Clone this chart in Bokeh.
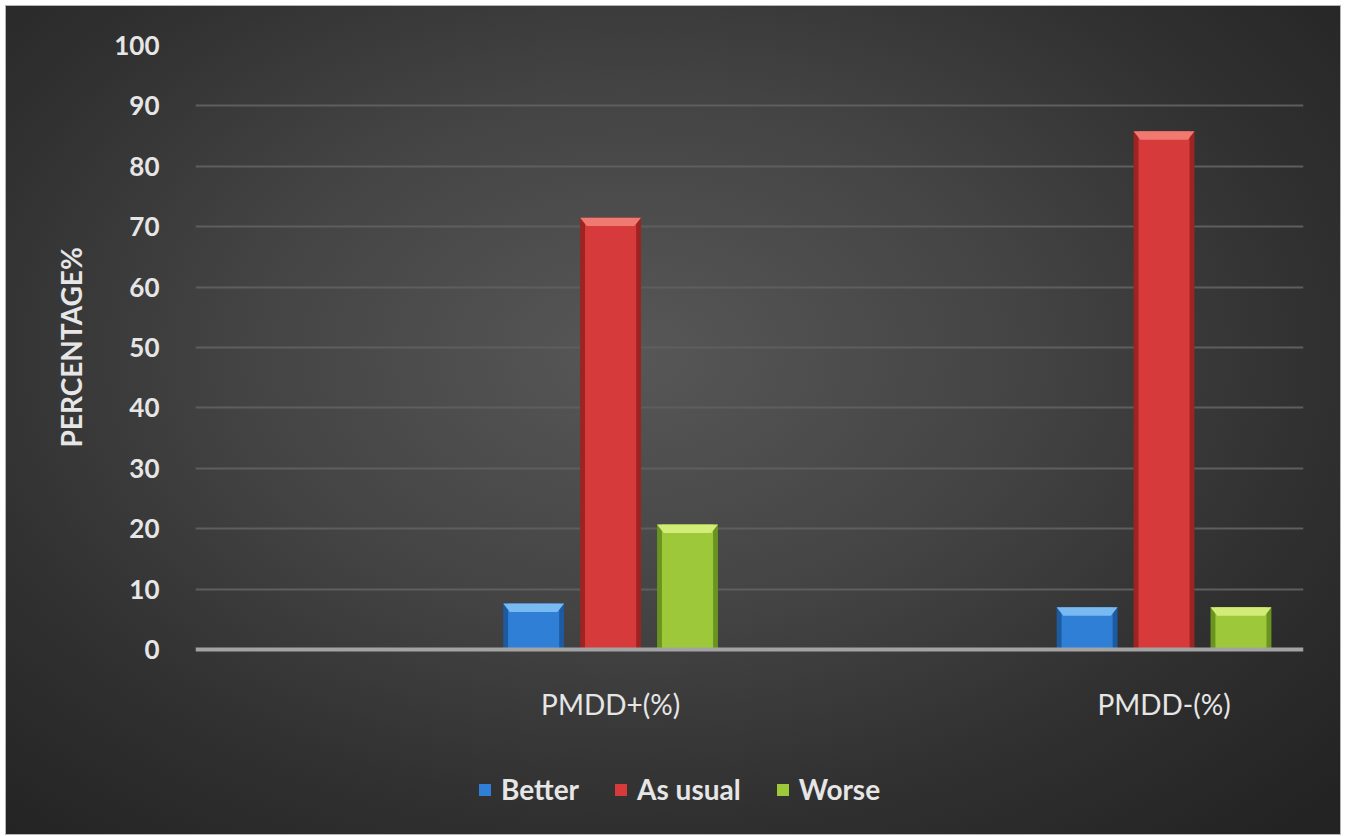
import numpy as np
from bokeh.plotting import figure
from bokeh.models import FixedTicker, Legend, LegendItem, ColumnDataSource, Span, Title
from bokeh.core.properties import value
from bokeh.embed import file_html
from bokeh.resources import INLINE

# Data
categories = ["PMDD+(%)", "PMDD-(%)"]
series = ["Better", "As usual", "Worse"]
better = [7.6, 7.0]
as_usual = [71.5, 85.8]
worse = [20.7, 7.0]
y_ticks = [0, 10, 20, 30, 40, 50, 60, 70, 80, 90, 100]

values = [better, as_usual, worse]
main_colors = ["#2f7fd6", "#d63a3a", "#9cc83a"]
edge_colors = ["#1d5aa0", "#9e2424", "#6a9420"]
top_colors = ["#79baf2", "#f07a72", "#d2ec78"]

# Layout (pixels)
FIG_W, FIG_H = 1334, 828
LEFT, RIGHT, TOP = 189, 37, 39
VALUE_SPAN_PX = 604          # height taken by 0..100
frame_h = FIG_H - TOP        # frame runs to the bottom so the legend fits inside it
y_start = y_ticks[-1] - frame_h * (y_ticks[-1] - y_ticks[0]) / VALUE_SPAN_PX

cat_pos = np.arange(1, len(categories) + 1, dtype=float)
offsets = [-0.139, 0.0, 0.139]
bar_w = 0.110
bevel_dx = 0.012
bevel_dy = 1.4

p = figure(
    width=FIG_W, height=FIG_H,
    x_range=(0.25, 2.252), y_range=(y_start, y_ticks[-1]),
    output_backend="svg", toolbar_location=None,
    min_border_left=LEFT, min_border_right=RIGHT,
    min_border_top=TOP, min_border_bottom=0,
)
p.margin = (6, 7, 2, 6)
p.styles = {
    "background": "radial-gradient(ellipse 72% 78% at 47% 42%, #575757 0%, #444444 40%, #303030 72%, #232323 100%)",
    "box-shadow": "0 0 0 1px #b4b4b4",
}
p.border_fill_color = None
p.background_fill_color = None
p.outline_line_color = None

legend_items = []
for name, vals, mc, ec, tc, off in zip(series, values, main_colors, edge_colors, top_colors, offsets):
    x = cat_pos + off
    top = np.array(vals, dtype=float)
    src = ColumnDataSource(dict(x=x, top=top))
    p.vbar(x="x", top="top", width=bar_w, bottom=0, source=src,
           fill_color=ec, line_color=None)
    r = p.vbar(x="x", top="top", width=bar_w * 0.84, bottom=0, source=src,
               fill_color=mc, line_color=None)
    xs = [[xi - bar_w / 2, xi + bar_w / 2, xi + bar_w / 2 - bevel_dx, xi - bar_w / 2 + bevel_dx]
          for xi in x]
    ys = [[ti, ti, ti - bevel_dy, ti - bevel_dy] for ti in top]
    p.patches(xs, ys, fill_color=tc, line_color=None)
    legend_items.append(LegendItem(label=name, renderers=[r]))

text_color = "#e6e6e6"

# Baseline at zero
p.add_layout(Span(location=0, dimension="width", line_color="#a3a3a3", line_width=4))

# Category labels under the baseline
p.text(x=cat_pos, y=[0] * len(categories), text=categories,
       y_offset=54, text_align="center", text_baseline="middle",
       text_font=value("Lato"), text_font_size="28px", text_color=text_color)

# Value axis
p.xaxis.visible = False
p.yaxis.ticker = FixedTicker(ticks=y_ticks)
p.yaxis.bounds = (y_ticks[0], y_ticks[-1])
p.yaxis.axis_line_color = None
p.yaxis.major_tick_line_color = None
p.yaxis.minor_tick_line_color = None
p.yaxis.major_label_text_font = "Lato"
p.yaxis.major_label_text_font_style = "bold"
p.yaxis.major_label_text_font_size = "26px"
p.yaxis.major_label_text_color = text_color
p.yaxis.major_label_standoff = 30

# Value-axis title: starts from the bottom of the frame, lifted so it sits
# centred on the 0..100 span
zero_px_from_bottom = frame_h - VALUE_SPAN_PX
axis_title = Title(
    text="PERCENTAGE%", align="left",
    offset=zero_px_from_bottom + 202,
    text_font="Lato", text_font_style="bold", text_font_size="28px",
    text_color=text_color, standoff=48,
)
p.add_layout(axis_title, "left")

p.xgrid.grid_line_color = None
p.ygrid.ticker = FixedTicker(ticks=y_ticks[1:])
p.ygrid.grid_line_color = "#5e5e5e"
p.ygrid.grid_line_width = 2

legend = Legend(items=legend_items, orientation="horizontal", location=(282, 28))
legend.background_fill_alpha = 0
legend.border_line_color = None
legend.label_text_font = "Lato"
legend.label_text_font_style = "bold"
legend.label_text_font_size = "28px"
legend.label_text_color = text_color
legend.glyph_width = 15
legend.glyph_height = 15
legend.label_standoff = 9
legend.spacing = 34
legend.margin = 0
legend.padding = 0
p.add_layout(legend, "center")

open("out.html", "w").write(file_html(p, INLINE))
